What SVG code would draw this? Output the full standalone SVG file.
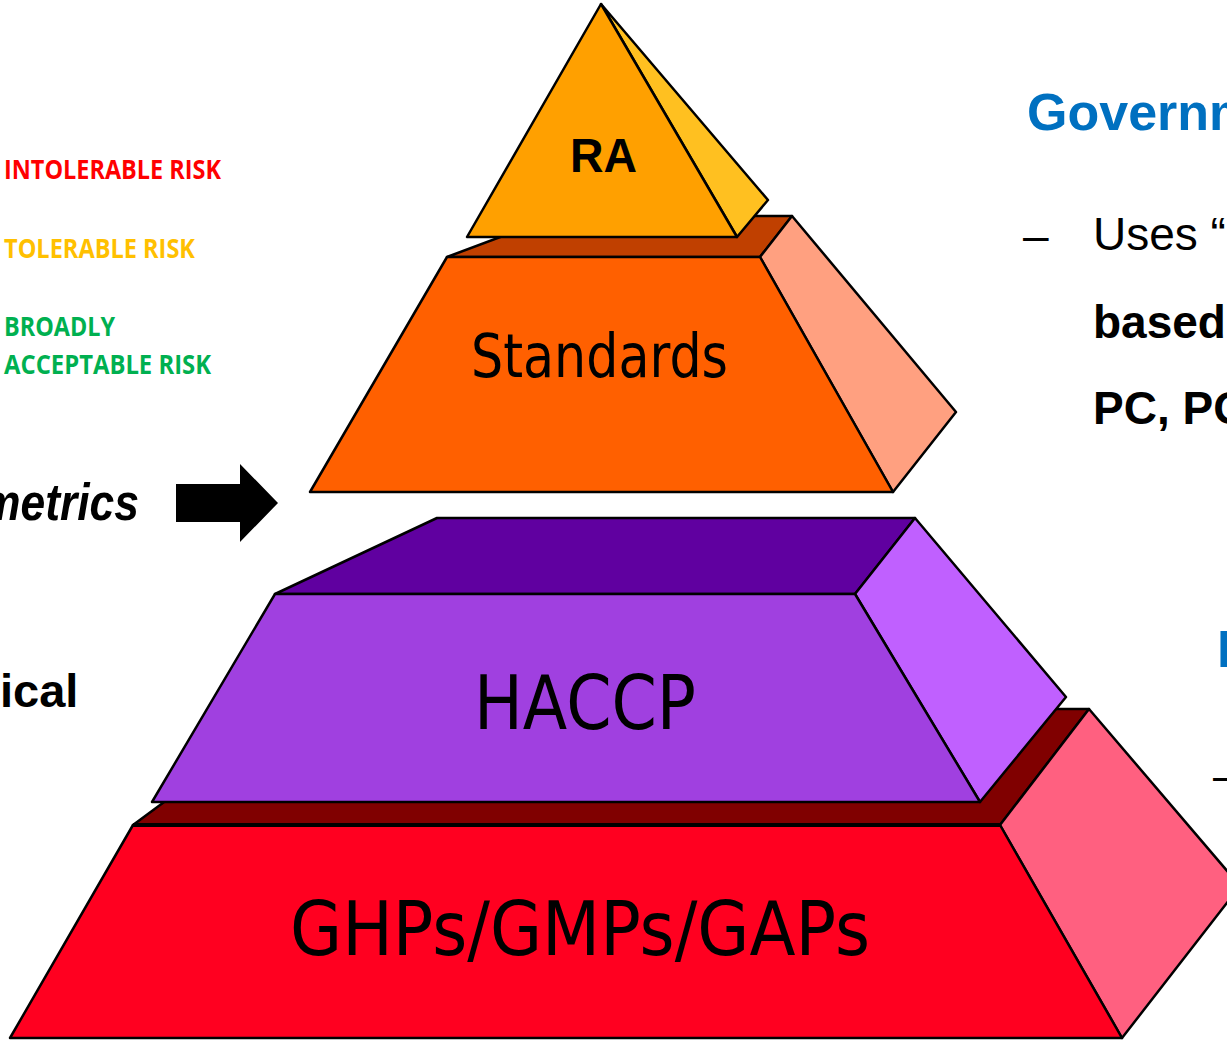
<svg xmlns="http://www.w3.org/2000/svg" width="1227" height="1040" viewBox="0 0 1227 1040">
<style>
.f{stroke:#000;stroke-width:2.5;stroke-linejoin:round}
.lbl{font-family:"DejaVu Sans",sans-serif;fill:#000}
.ar{font-family:"Liberation Sans",Arial,sans-serif}
.risk{font-family:"Open Sans","Noto Sans",sans-serif;font-weight:bold;font-size:26px}
</style>
<rect width="1227" height="1040" fill="#fff"/>
<g id="layer-ghps">
<polygon class="f" fill="#800000" points="133,825 290,709 1089,709 1000,825"/>
<polygon class="f" fill="#FF6080" points="1000,825 1089,709 1240,886 1122,1038"/>
<polygon class="f" fill="#FF0020" points="133,825 1000,825 1122,1038 10,1038"/>
<line x1="133" y1="825" x2="1000" y2="825" stroke="#000" stroke-width="4"/>
<text class="lbl" x="290" y="955" font-size="75" textLength="580" lengthAdjust="spacingAndGlyphs">GHPs/GMPs/GAPs</text>
</g>
<g id="layer-haccp">
<polygon class="f" fill="#6000A0" points="275,594 437,518 915,518 855,594"/>
<polygon class="f" fill="#C060FF" points="855,594 915,518 1066,697 980,802"/>
<polygon class="f" fill="#A040E0" points="275,594 855,594 980,802 152,802"/>
<text class="lbl" x="474" y="729" font-size="74" textLength="222" lengthAdjust="spacingAndGlyphs">HACCP</text>
</g>
<g id="layer-standards">
<polygon class="f" fill="#C04000" points="447,257 556,216 792,216 760,257"/>
<polygon class="f" fill="#FFA080" points="760,257 792,216 956,412 893,492"/>
<polygon class="f" fill="#FF6000" points="447,257 760,257 893,492 310,492"/>
<text class="lbl" x="471" y="377" font-size="60" textLength="257" lengthAdjust="spacingAndGlyphs">Standards</text>
</g>
<g id="layer-ra">
<polygon class="f" fill="#FFC020" points="601,4 768,200 737,237"/>
<polygon class="f" fill="#FFA000" points="601,4 467,237 737,237"/>
<text class="ar" x="570" y="172" font-size="48" font-weight="bold" textLength="67" lengthAdjust="spacingAndGlyphs">RA</text>
</g>
<g id="connectors">
<polygon fill="#000" points="176,484 240,484 240,464 278,503 240,542 240,522 176,522"/>
</g>
<g id="risk-labels">
<text class="risk" x="4" y="179" fill="#FF0000" textLength="217" lengthAdjust="spacingAndGlyphs">INTOLERABLE RISK</text>
<text class="risk" x="4" y="258" fill="#FFC000" textLength="191" lengthAdjust="spacingAndGlyphs">TOLERABLE RISK</text>
<text class="risk" x="4" y="336" fill="#00B050" textLength="111" lengthAdjust="spacingAndGlyphs">BROADLY</text>
<text class="risk" x="4" y="374" fill="#00B050" textLength="207" lengthAdjust="spacingAndGlyphs">ACCEPTABLE RISK</text>
</g>
<g id="left-text" class="ar">
<text x="-19" y="520" font-size="52" font-weight="bold" font-style="italic" textLength="158" lengthAdjust="spacingAndGlyphs">metrics</text>
<text x="0" y="707" font-size="47" font-weight="bold">ical</text>
</g>
<g id="right-text" class="ar">
<text x="1027" y="130" font-size="52" font-weight="bold" fill="#0070C0">Governm</text>
<text x="1023" y="251" font-size="46">–</text>
<text x="1093" y="250" font-size="46">Uses “</text>
<text x="1093" y="338" font-size="46" font-weight="bold">based</text>
<text x="1093" y="424" font-size="46" font-weight="bold">PC, PO</text>
<text x="1217" y="667" font-size="52" font-weight="bold" fill="#0070C0">I</text>
<text x="1213" y="791" font-size="46">–</text>
</g>
</svg>
